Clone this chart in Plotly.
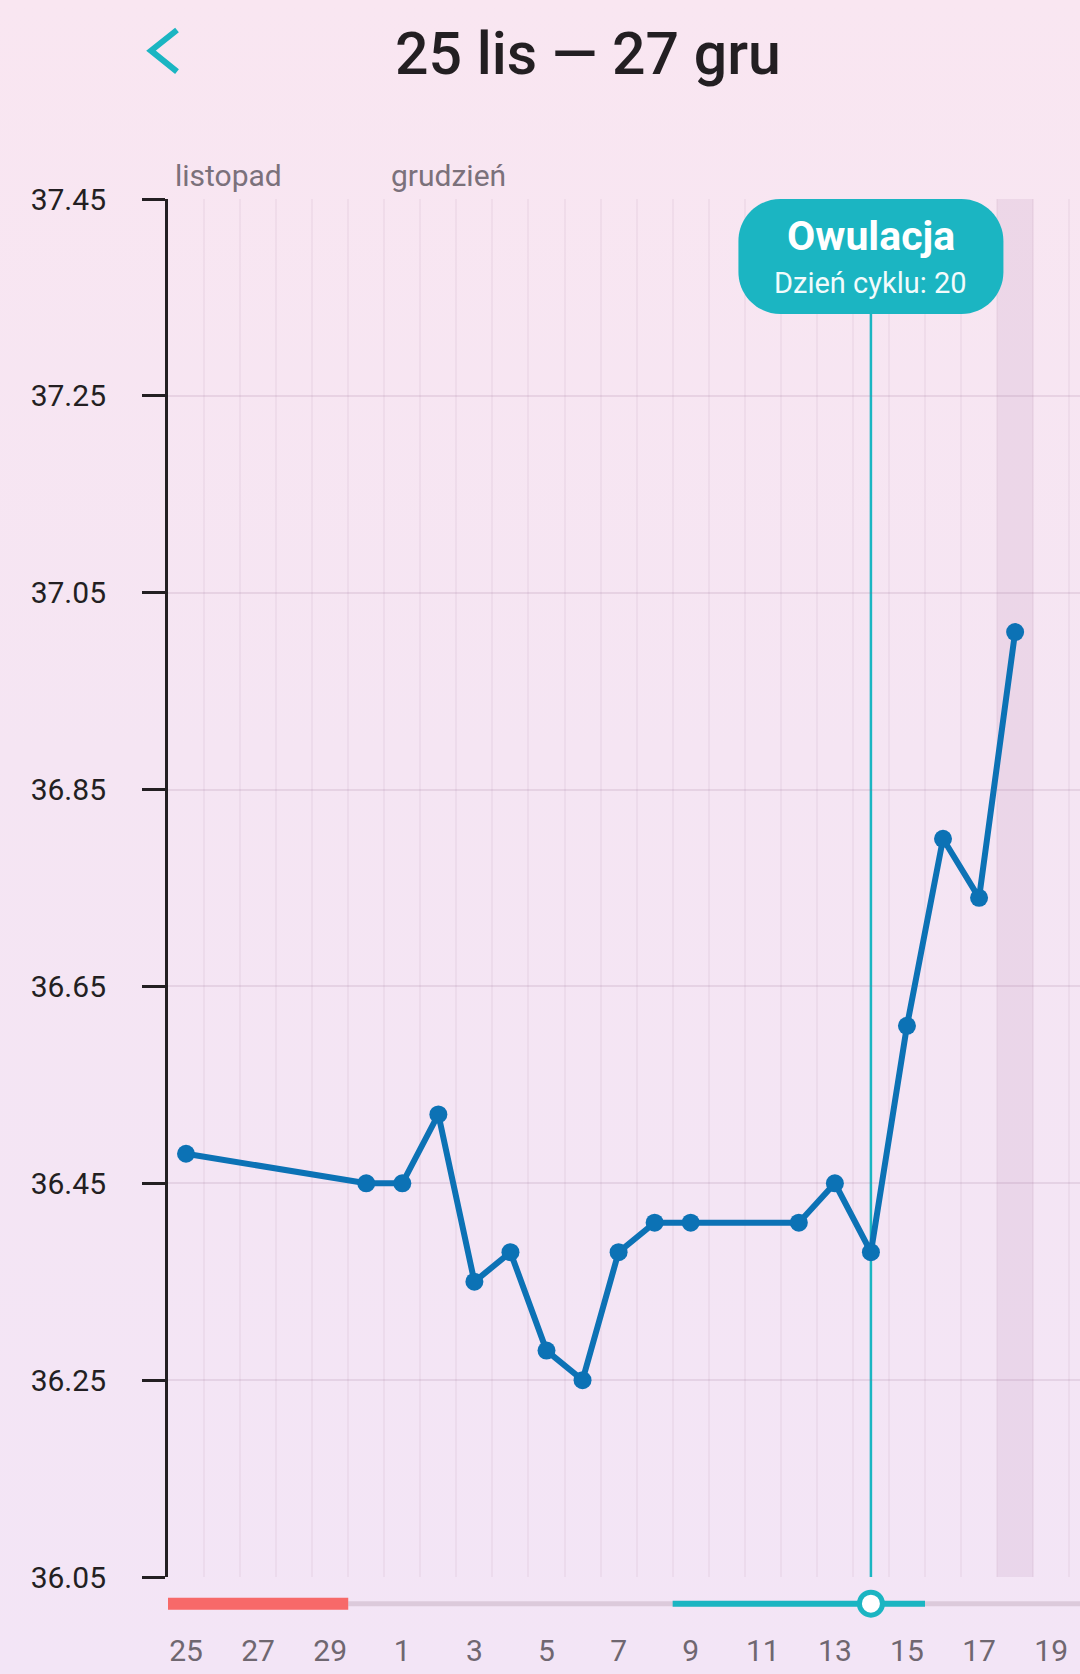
import base64
import pandas as pd
import plotly.graph_objects as go

# ---------------- data ----------------
dates = ["2023-11-25", "2023-11-30", "2023-12-01", "2023-12-02", "2023-12-03",
         "2023-12-04", "2023-12-05", "2023-12-06", "2023-12-07", "2023-12-08",
         "2023-12-09", "2023-12-12", "2023-12-13", "2023-12-14", "2023-12-15",
         "2023-12-16", "2023-12-17", "2023-12-18"]
temps = [36.48, 36.45, 36.45, 36.52, 36.35,
         36.38, 36.28, 36.25, 36.38, 36.41,
         36.41, 36.41, 36.45, 36.38, 36.61,
         36.80, 36.74, 37.01]
y_ticks = [36.05, 36.25, 36.45, 36.65, 36.85, 37.05, 37.25, 37.45]
month_labels = ["listopad", "grudzień"]
month_label_days = ["2023-11-25", "2023-12-01"]
period_days = ["2023-11-25", "2023-11-29"]
fertile_days = ["2023-12-09", "2023-12-15"]
ovulation_day = "2023-12-14"
ovulation_title = "Owulacja"
ovulation_sub = "Dzień cyklu: 20"
today = "2023-12-18"
view_start = "2023-11-25"
view_end = "2023-12-19 19:12"
track_end = "2023-12-27"
title_text = "25 lis — 27 gru"

# ---------------- style ----------------
W, H = 1080, 1674
L, T, B = 168, 199, 54
PH = H - T - B
PW = W - L
main_bottom_px = 1577
y_main0 = (H - B - main_bottom_px) / PH
track_y = 0.38

TEAL = "#1bb5c2"
BLUE = "#0c72b5"
DARK = "#231f22"
GREY = "#6f6770"
HALF = pd.Timedelta(hours=12)
FONT = "Roboto"


def ts(d, delta=pd.Timedelta(0)):
    return (pd.Timestamp(d) + delta).strftime("%Y-%m-%d %H:%M:%S")


fig = go.Figure()

# temperature series
fig.add_trace(go.Scatter(
    x=dates, y=temps, mode="lines+markers",
    line=dict(color=BLUE, width=6),
    marker=dict(color=BLUE, size=18),
    xaxis="x", yaxis="y", showlegend=False, hoverinfo="x+y",
))

# cycle track (bottom)
fig.add_trace(go.Scatter(
    x=[ts(period_days[1], HALF), ts(track_end, HALF)], y=[track_y, track_y],
    mode="lines", line=dict(color="#dccadb", width=5),
    xaxis="x2", yaxis="y2", showlegend=False, hoverinfo="skip",
))
fig.add_trace(go.Scatter(
    x=[ts(period_days[0], -HALF), ts(period_days[1], HALF)], y=[track_y, track_y],
    mode="lines", line=dict(color="#f76969", width=12),
    xaxis="x2", yaxis="y2", showlegend=False, hoverinfo="skip",
))
fig.add_trace(go.Scatter(
    x=[ts(fertile_days[0], -HALF), ts(fertile_days[1], HALF)], y=[track_y, track_y],
    mode="lines", line=dict(color=TEAL, width=6),
    xaxis="x2", yaxis="y2", showlegend=False, hoverinfo="skip",
))
fig.add_trace(go.Scatter(
    x=[ovulation_day], y=[track_y], mode="markers",
    marker=dict(color="#ffffff", size=23, line=dict(color=TEAL, width=5)),
    xaxis="x2", yaxis="y2", showlegend=False, hoverinfo="skip", cliponaxis=False,
))

shapes = []
# today column
shapes.append(dict(type="rect", xref="x", yref="y",
                   x0=ts(today, -HALF), x1=ts(today, HALF),
                   y0=y_ticks[0], y1=y_ticks[-1],
                   fillcolor="rgba(200,165,195,0.22)", line=dict(width=0), layer="below"))
# ovulation line
shapes.append(dict(type="line", xref="x", yref="y",
                   x0=ovulation_day, x1=ovulation_day, y0=y_ticks[0], y1=y_ticks[-1],
                   line=dict(color=TEAL, width=2.5), layer="below"))
# bubble
w2, hh, r = 132.5, 115, 42
k = 0.5523 * r
bubble = (f"M {-w2 + r},0 L {w2 - r},0 C {w2 - r + k},0 {w2},{-r + k} {w2},{-r} "
          f"L {w2},{-hh + r} C {w2},{-hh + r - k} {w2 - r + k},{-hh} {w2 - r},{-hh} "
          f"L {-w2 + r},{-hh} C {-w2 + r - k},{-hh} {-w2},{-hh + r - k} {-w2},{-hh + r} "
          f"L {-w2},{-r} C {-w2},{-r + k} {-w2 + r - k},0 {-w2 + r},0 Z")
shapes.append(dict(type="path", xref="x", yref="y", xsizemode="pixel", ysizemode="pixel",
                   xanchor=ovulation_day, yanchor=y_ticks[-1], path=bubble,
                   fillcolor=TEAL, line=dict(width=0), layer="above"))
# back chevron
shapes.append(dict(type="path", xref="paper", yref="paper", xsizemode="pixel", ysizemode="pixel",
                   xanchor=0, yanchor=1,
                   path="M 9,169 L -17,148.3 L 9,127.3",
                   line=dict(color=TEAL, width=6), layer="above"))

annotations = []
annotations.append(dict(text=title_text, xref="paper", yref="paper",
                        x=(588 - L) / PW, y=1, yshift=T - 53, xanchor="center", yanchor="middle",
                        showarrow=False, font=dict(family=FONT, size=59, color=DARK, weight=500)))
for lab, d in zip(month_labels, month_label_days):
    annotations.append(dict(text=lab, xref="x", yref="paper", x=ts(d, -HALF), y=1,
                            xanchor="left", yanchor="middle", xshift=5, yshift=24,
                            showarrow=False, font=dict(family=FONT, size=30, color="#7b717b")))
annotations.append(dict(text=f"<b>{ovulation_title}</b>", xref="x", yref="y",
                        x=ovulation_day, y=y_ticks[-1], yshift=-37, yanchor="middle",
                        showarrow=False, font=dict(family=FONT, size=41, color="#ffffff")))
annotations.append(dict(text=ovulation_sub, xref="x", yref="y",
                        x=ovulation_day, y=y_ticks[-1], yshift=-84, yanchor="middle",
                        showarrow=False, font=dict(family=FONT, size=29, color="#f2fbfc")))

# background gradient
svg = (f'<svg xmlns="http://www.w3.org/2000/svg" width="{W}" height="{H}" viewBox="0 0 {W} {H}" '
       f'preserveAspectRatio="none"><defs><linearGradient id="g" x1="0" y1="0" x2="0" y2="1">'
       f'<stop offset="0" stop-color="#f9e6f1"/><stop offset="0.45" stop-color="#f5e5f3"/>'
       f'<stop offset="1" stop-color="#f3e5f6"/></linearGradient></defs>'
       f'<rect width="{W}" height="{H}" fill="url(#g)"/></svg>')
bg_src = "data:image/svg+xml;base64," + base64.b64encode(svg.encode()).decode()

fig.update_layout(
    width=W, height=H,
    margin=dict(l=L, r=0, t=T, b=B, pad=0, autoexpand=False),
    paper_bgcolor="#f5e6f4", plot_bgcolor="rgba(0,0,0,0)",
    showlegend=False,
    shapes=shapes, annotations=annotations,
    images=[dict(source=bg_src, xref="paper", yref="paper",
                 x=-L / PW, y=1 + T / PH, sizex=W / PW, sizey=H / PH,
                 xanchor="left", yanchor="top", sizing="stretch", layer="below")],
    xaxis=dict(type="date", anchor="y", range=[ts(view_start, -HALF), view_end],
               showticklabels=False, showgrid=False, zeroline=False, showline=False, ticks="",
               tick0=view_start, dtick=2 * 86400000, automargin=False,
               minor=dict(showgrid=True, tick0=ts(view_start, -HALF), dtick=86400000,
                          gridcolor="rgba(150,100,140,0.08)", gridwidth=2, ticks=""),
               fixedrange=True),
    xaxis2=dict(type="date", anchor="y2", matches="x", showgrid=False, zeroline=False,
                showline=False, tickformat="%-d", tick0=view_start, dtick=2 * 86400000,
                ticks="outside", ticklen=4, tickcolor="rgba(0,0,0,0)", automargin=False,
                tickfont=dict(family=FONT, size=30, color=GREY), fixedrange=True),
    yaxis=dict(domain=[y_main0, 1], range=[y_ticks[0], y_ticks[-1]], tickvals=y_ticks,
               tickformat=".2f", ticks="outside", ticklen=23, tickwidth=3, tickcolor=DARK,
               showline=True, linewidth=3, linecolor=DARK, showgrid=True,
               gridcolor="rgba(150,100,140,0.15)", gridwidth=2, zeroline=False,
               tickfont=dict(family=FONT, size=30, color=DARK), ticklabelstandoff=30,
               automargin=False, fixedrange=True),
    yaxis2=dict(domain=[0, y_main0], range=[0, 1], visible=False, fixedrange=True,
                automargin=False),
)

fig.write_html("out.html", config={"displayModeBar": False},
               post_script="document.body.style.margin='0';document.body.style.overflow='hidden';")
